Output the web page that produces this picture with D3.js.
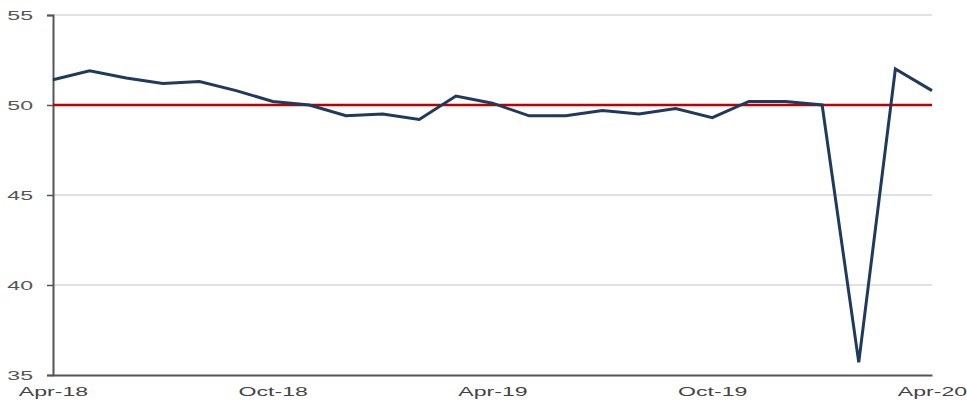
<!DOCTYPE html>
<html><head><meta charset="utf-8">
<script src="https://cdn.jsdelivr.net/npm/d3@7"></script>
<style>body{margin:0;background:#fff}svg{display:block}</style>
</head><body>
<script>
const months = ["Apr-18","May-18","Jun-18","Jul-18","Aug-18","Sep-18","Oct-18","Nov-18","Dec-18","Jan-19","Feb-19","Mar-19","Apr-19","May-19","Jun-19","Jul-19","Aug-19","Sep-19","Oct-19","Nov-19","Dec-19","Jan-20","Feb-20","Mar-20","Apr-20"];
const pmi = [51.4,51.9,51.5,51.2,51.3,50.8,50.2,50.0,49.4,49.5,49.2,50.5,50.1,49.4,49.4,49.7,49.5,49.8,49.3,50.2,50.2,50.0,35.7,52.0,50.8];
const xTickLabels = ["Apr-18","Oct-18","Apr-19","Oct-19","Apr-20"];
const yTicks = [35,40,45,50,55];
const threshold = 50;

const W = 967, H = 407;
const m = {left:53, right:35, top:15, bottom:32};
const sx = 1.85;
const svg = d3.select("body").append("svg").attr("width",W).attr("height",H);
const x = d3.scalePoint().domain(months).range([m.left, W-m.right]);
const y = d3.scaleLinear().domain([35,55]).range([H-m.bottom, m.top]);

// gridlines
svg.append("g").selectAll("line").data(yTicks.filter(t=>t!==35)).join("line")
  .attr("x1",m.left).attr("x2",W-m.right).attr("y1",d=>y(d)).attr("y2",d=>y(d))
  .attr("stroke","#c4c4c4").attr("stroke-width",1);

// y axis
const ya = svg.append("g").attr("transform",`translate(${m.left},0)`)
  .call(d3.axisLeft(y).tickValues(yTicks).tickSize(6));
ya.select(".domain").attr("stroke","#555").attr("stroke-width",2);
ya.selectAll(".tick line").attr("stroke","#555").attr("stroke-width",1.5);
ya.selectAll("text").attr("font-family","Liberation Sans, Arial, sans-serif").attr("font-size",12.5)
  .attr("fill","#555").attr("x",-20/sx).attr("transform",`scale(${sx},1)`);

// x axis
const xa = svg.append("g").attr("transform",`translate(0,${H-m.bottom})`)
  .call(d3.axisBottom(x).tickValues(xTickLabels).tickSize(0).tickPadding(12));
xa.select(".domain").attr("stroke","#555").attr("stroke-width",2);
xa.selectAll("text").attr("font-family","Liberation Sans, Arial, sans-serif").attr("font-size",12.5)
  .attr("fill","#444").attr("transform",`scale(${sx},1)`);

// red threshold line
svg.append("line").attr("x1",m.left).attr("x2",W-m.right)
  .attr("y1",y(threshold)).attr("y2",y(threshold))
  .attr("stroke","#c00000").attr("stroke-width",2.5);

// data line
svg.append("path").datum(pmi)
  .attr("fill","none").attr("stroke","#1f3a5c").attr("stroke-width",3).attr("stroke-linejoin","miter")
  .attr("d", d3.line().x((d,i)=>x(months[i])).y(d=>y(d)));
</script>
</body></html>
